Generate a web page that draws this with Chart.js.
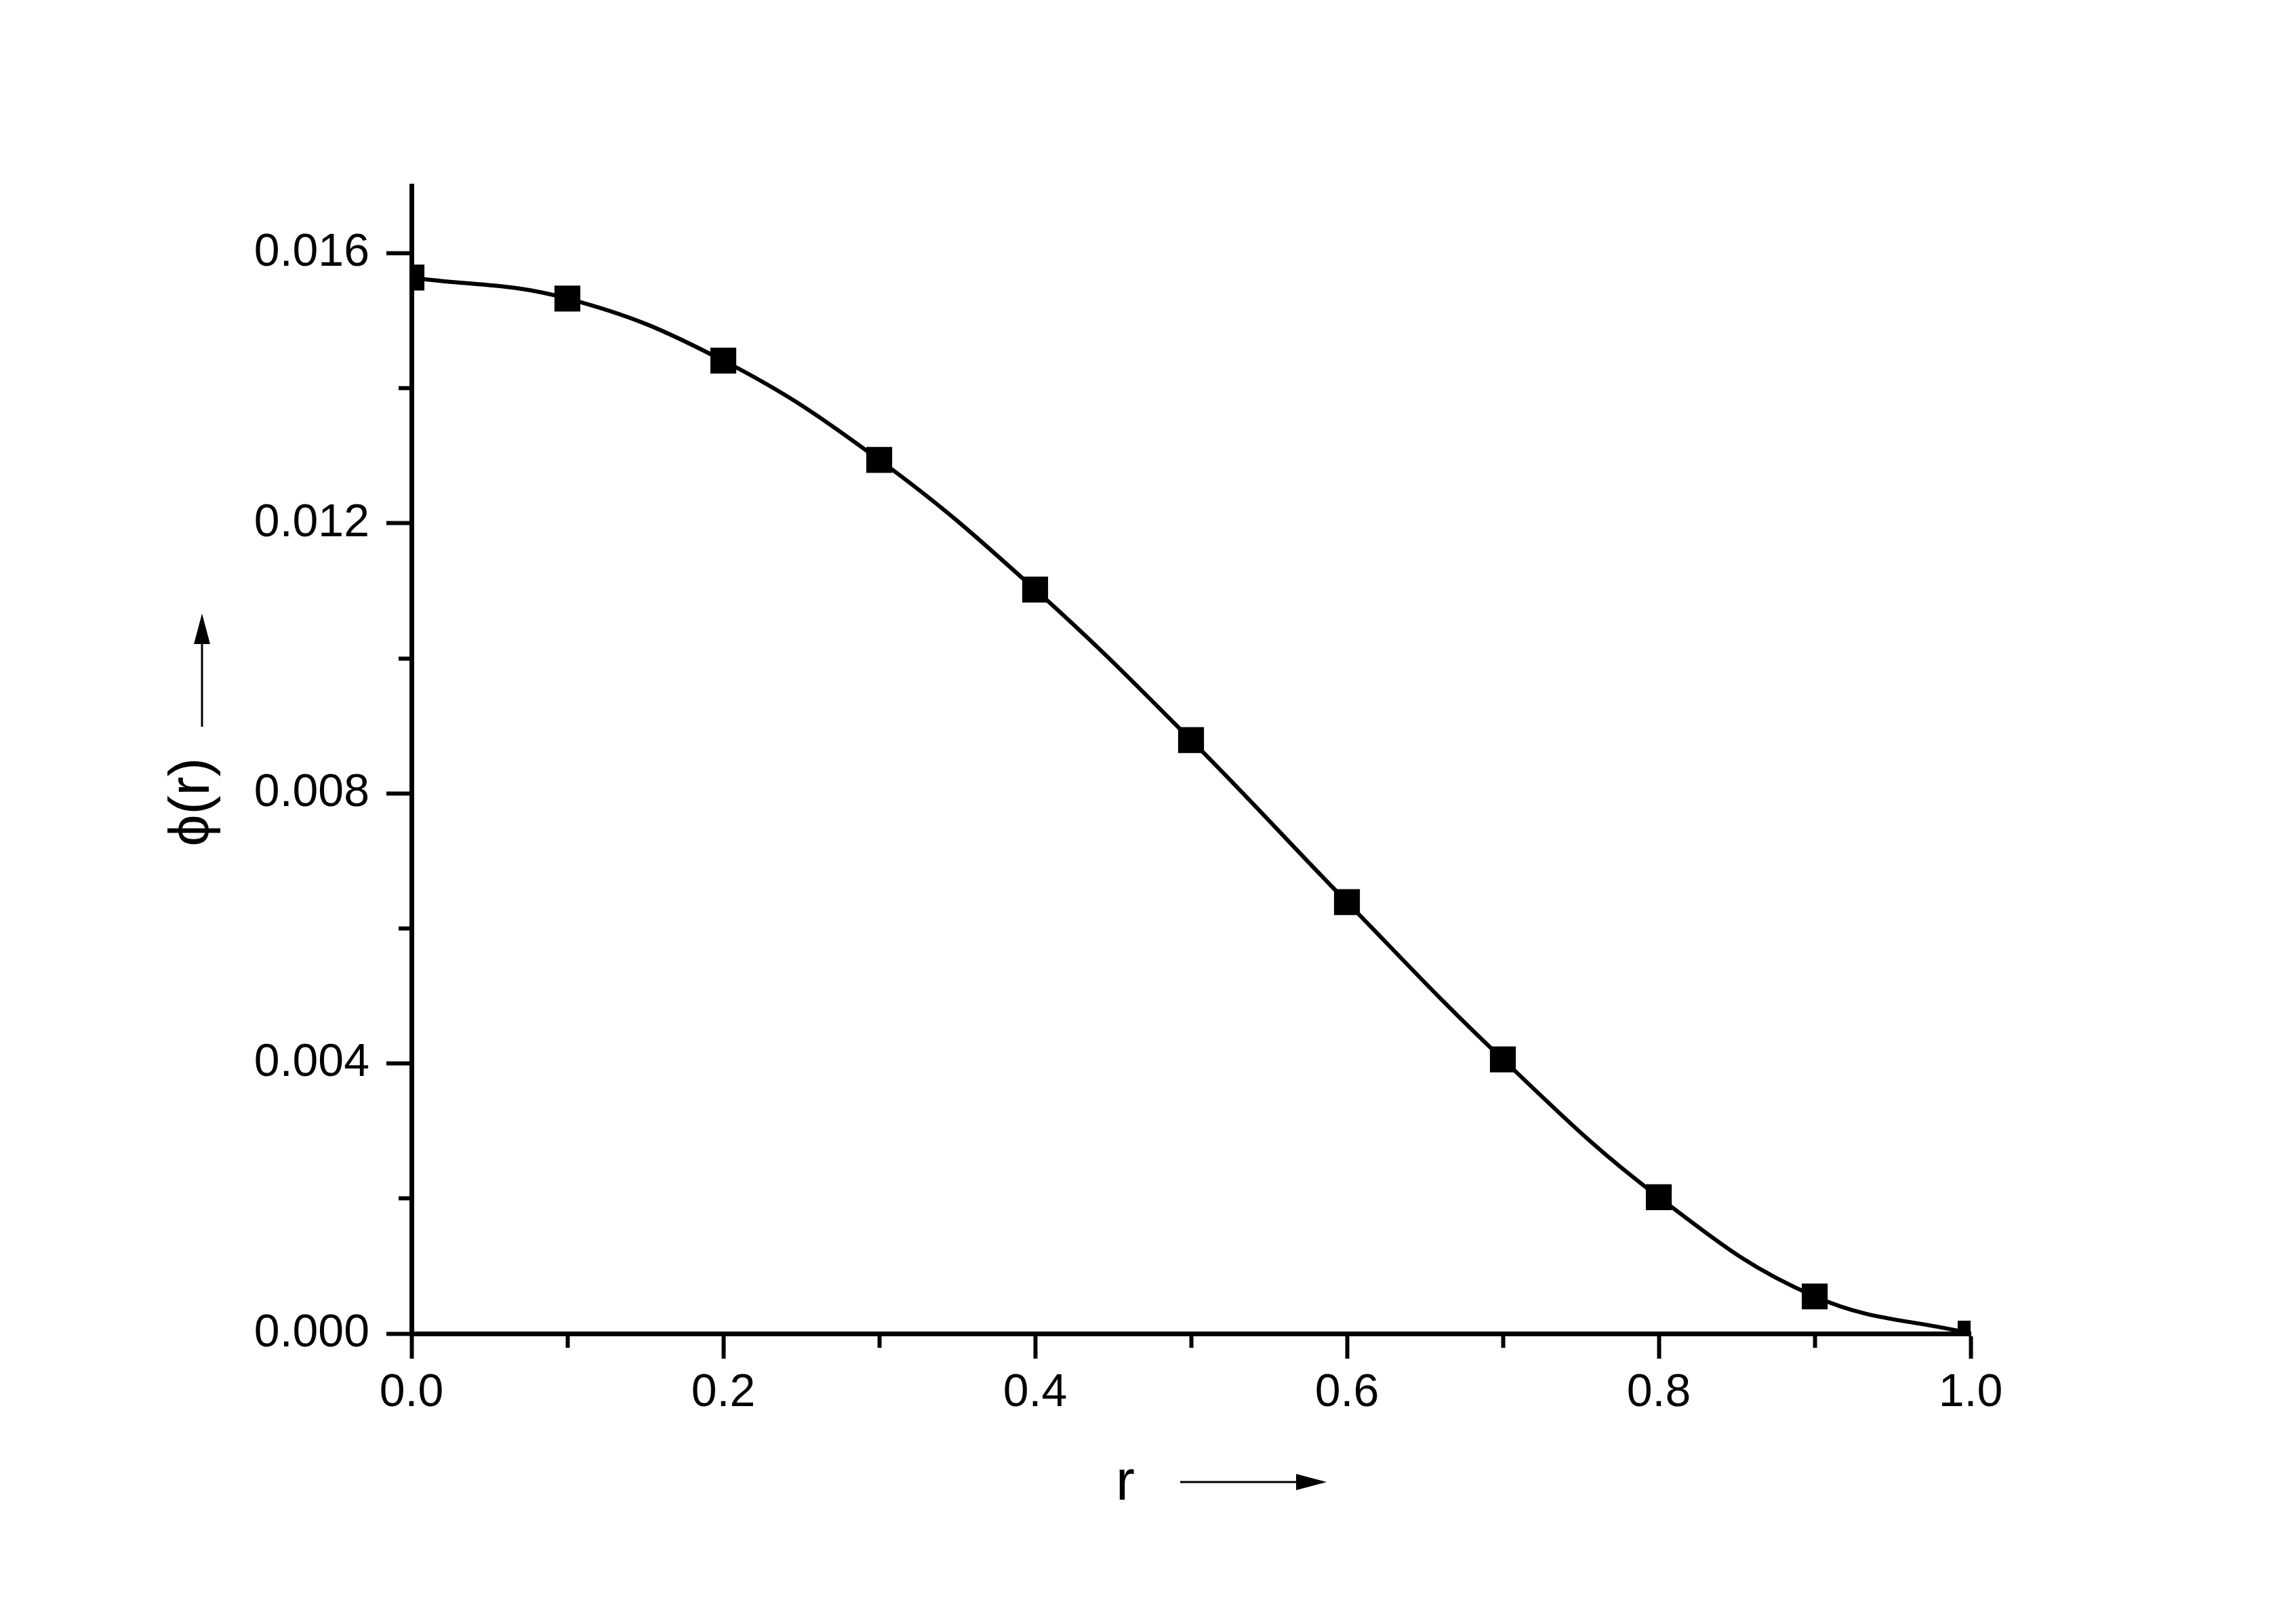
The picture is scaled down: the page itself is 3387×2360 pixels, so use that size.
<!DOCTYPE html>
<html>
<head>
<meta charset="utf-8">
<title>phi(r)</title>
<script src="https://cdn.jsdelivr.net/npm/chart.js@4"></script>
<style>
  html, body { margin: 0; padding: 0; background: #fff; }
  #wrap { width: 3387px; height: 2360px; }
</style>
</head>
<body>
<div id="wrap"><canvas id="chart" width="3387" height="2360"></canvas></div>
<script>
// data
const rValues = [0.0, 0.1, 0.2, 0.3, 0.4, 0.5, 0.6, 0.7, 0.8, 0.9, 1.0];
const phiValues = [0.01564, 0.01533, 0.01441, 0.01294, 0.01102, 0.00879, 0.00639, 0.00406, 0.00202, 0.00055, 0.0];

const xTickLabels = ['0.0', '0.2', '0.4', '0.6', '0.8', '1.0'];
const yTickLabels = ['0.000', '0.004', '0.008', '0.012', '0.016'];

const xTitle = 'r';
const yTitle = 'ϕ(r)';

const FONT = "'Liberation Sans', Arial, sans-serif";

const isMajorX = v => xTickLabels.includes(v.toFixed(1));
const isMajorY = v => yTickLabels.includes(v.toFixed(3));

// titles with the little arrows next to them
const axisTitles = {
  id: 'axisTitles',
  afterDraw(chart) {
    const { ctx, chartArea: ca } = chart;
    ctx.save();
    ctx.fillStyle = '#000';
    ctx.strokeStyle = '#000';
    ctx.font = `84px ${FONT}`;

    // x title + arrow
    const xt = ca.left + 1053, xb = ca.bottom + 245;
    ctx.textAlign = 'center';
    ctx.textBaseline = 'alphabetic';
    ctx.fillText(xTitle, xt, xb);
    const ay = ca.bottom + 219, ax1 = ca.left + 1134, ax2 = ca.left + 1350;
    ctx.lineWidth = 3;
    ctx.beginPath(); ctx.moveTo(ax1, ay); ctx.lineTo(ax2 - 40, ay); ctx.stroke();
    ctx.beginPath();
    ctx.moveTo(ax2, ay); ctx.lineTo(ax2 - 45, ay - 12); ctx.lineTo(ax2 - 45, ay + 12);
    ctx.closePath(); ctx.fill();

    // y title + arrow
    ctx.save();
    ctx.translate(ca.left - 299, ca.top + 909);
    ctx.rotate(-Math.PI / 2);
    ctx.fillText(yTitle, 0, 0);
    ctx.restore();
    const vx = ca.left - 309, vy1 = ca.top + 798, vy2 = ca.top + 631;
    ctx.beginPath(); ctx.moveTo(vx, vy1); ctx.lineTo(vx, vy2 + 40); ctx.stroke();
    ctx.beginPath();
    ctx.moveTo(vx, vy2); ctx.lineTo(vx - 12, vy2 + 45); ctx.lineTo(vx + 12, vy2 + 45);
    ctx.closePath(); ctx.fill();
    ctx.restore();
  }
};

new Chart(document.getElementById('chart'), {
  type: 'line',
  plugins: [axisTitles],
  data: {
    datasets: [{
      data: rValues.map((r, i) => ({ x: r, y: phiValues[i] })),
      borderColor: '#000',
      backgroundColor: '#000',
      borderWidth: 6,
      tension: 0.4,
      pointStyle: 'rect',
      pointRadius: 27,
      pointHoverRadius: 27,
      pointBorderWidth: 0,
      pointBackgroundColor: '#000',
      clip: 0,
    }],
  },
  options: {
    responsive: false,
    devicePixelRatio: 1,
    animation: false,
    events: [],
    layout: { padding: { top: 274, right: 480, bottom: 0, left: 0 } },
    plugins: { legend: { display: false }, tooltip: { enabled: false } },
    scales: {
      x: {
        type: 'linear', min: 0, max: 1,
        afterFit: s => { s.height = 393; },
        border: { display: true, color: '#000', width: 7 },
        grid: {
          drawOnChartArea: false, drawTicks: true, tickLength: 37,
          tickWidth: 6, tickColor: '#000',
          tickBorderDash: c => (c.tick && isMajorX(c.tick.value)) ? [] : [17, 100],
        },
        ticks: {
          stepSize: 0.1, autoSkip: false, maxRotation: 0, padding: 10,
          color: '#000', font: { family: FONT, size: 68 },
          callback: v => isMajorX(v) ? v.toFixed(1) : '',
        },
      },
      y: {
        type: 'linear', min: 0, max: 0.017,
        afterFit: s => { s.width = 607; },
        border: { display: true, color: '#000', width: 7 },
        grid: {
          drawOnChartArea: false, drawTicks: true, tickLength: 37,
          tickWidth: 6, tickColor: '#000',
          tickBorderDash: c => (c.tick && isMajorY(c.tick.value)) ? [] : [16, 18],
          tickBorderDashOffset: c => (c.tick && isMajorY(c.tick.value)) ? 0 : 16,
        },
        ticks: {
          stepSize: 0.002, includeBounds: false, autoSkip: false, padding: 25,
          color: '#000', font: { family: FONT, size: 68 },
          callback: v => isMajorY(v) ? v.toFixed(3) : '',
        },
      },
    },
  },
});
</script>
</body>
</html>
